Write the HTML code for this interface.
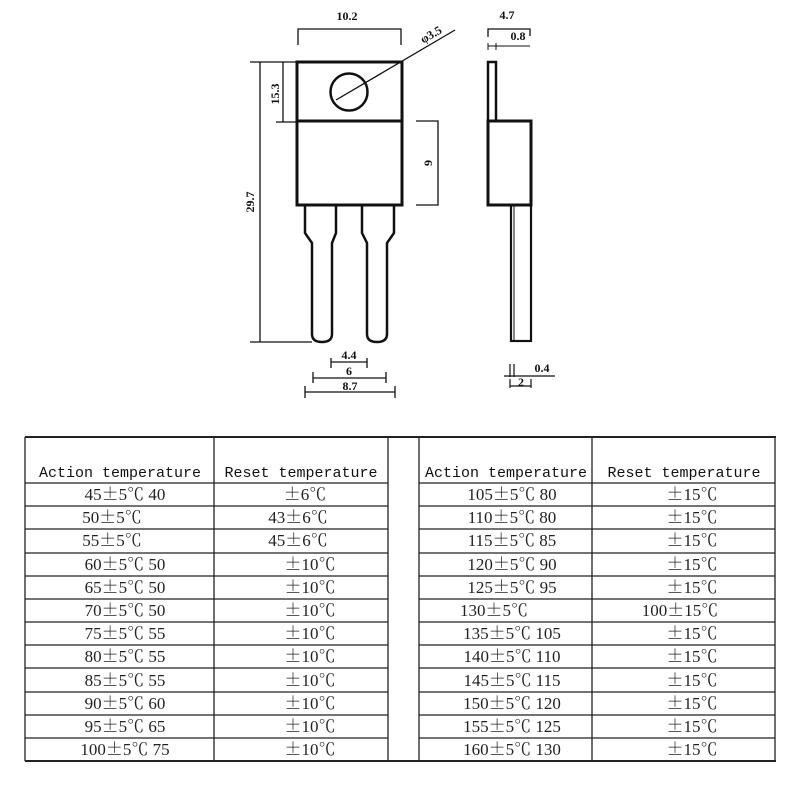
<!DOCTYPE html>
<html><head><meta charset="utf-8"><style>
html,body{margin:0;padding:0;background:#fff;width:800px;height:800px;overflow:hidden}
svg{display:block}
.d{font-family:"Liberation Serif",serif;font-weight:bold;font-size:12px;fill:#111}
.h{font-family:"Liberation Mono",monospace;font-size:15px;fill:#111}
.t{font-family:"Liberation Serif","Noto Serif CJK SC",serif;font-size:17px;fill:#222}
.c{font-family:"Noto Serif CJK SC",serif}
</style></head><body>
<svg width="800" height="800" viewBox="0 0 800 800" xmlns="http://www.w3.org/2000/svg">
<g stroke="#111" fill="none">
 <rect x="297" y="62" width="105" height="143" stroke-width="3"/>
 <line x1="297" y1="121" x2="402" y2="121" stroke-width="3"/>
 <circle cx="349" cy="92" r="18.5" stroke-width="2.5"/>
 <path d="M305 205 V233 L312 243 V334 Q312 342 322 342 Q332 342 332 334 V243 L336 233 V205" stroke-width="2.5"/>
 <path d="M362 205 V233 L367 243 V334 Q367 342 377 342 Q387 342 387 334 V243 L394 233 V205" stroke-width="2.5"/>
 <path d="M298 45 V29 H401 V45" stroke-width="1.3"/>
 <line x1="336" y1="100" x2="455" y2="30" stroke-width="1.3"/>
 <path d="M250 62 H296 M260 62 V342 M250 342 H312" stroke-width="1.3"/>
 <path d="M283 62 V122 M276 122 H297" stroke-width="1.3"/>
 <path d="M416 121 H438 V205 H416" stroke-width="1.3"/>
 <path d="M331 368 V358 M331 362 H367 M367 358 V368" stroke-width="1.3"/>
 <path d="M313 372 V383 M313 378 H386 M386 372 V383" stroke-width="1.3"/>
 <path d="M305 386 V398 M305 392 H395 M395 386 V398" stroke-width="1.3"/>
 <rect x="488" y="62" width="8" height="59" stroke-width="2.5"/>
 <rect x="488" y="121" width="43" height="84" stroke-width="3"/>
 <rect x="511" y="205" width="20" height="136" stroke-width="2.2"/>
 <line x1="514" y1="205" x2="514" y2="341" stroke-width="1"/>
 <path d="M488 37 V29 H530 V36" stroke-width="1.3"/>
 <path d="M488 43 V50 M496 43 V50 M488 46 H530" stroke-width="1"/>
 <path d="M510 364 V377 M514 364 V377 M504 376 H555" stroke-width="1.2"/>
 <path d="M510 379 V388 M531 379 V388 M510 386 H531" stroke-width="1.2"/>
</g>
<text class="d" x="347" y="20" text-anchor="middle">10.2</text>
<text class="d" x="433" y="38" text-anchor="middle" transform="rotate(-30 433 38)">φ3.5</text>
<text class="d" x="254" y="202" text-anchor="middle" transform="rotate(-90 254 202)" font-weight="normal">29.7</text>
<text class="d" x="279" y="94" text-anchor="middle" transform="rotate(-90 279 94)" font-weight="normal">15.3</text>
<text class="d" x="432" y="163" text-anchor="middle" transform="rotate(-90 432 163)">9</text>
<text class="d" x="349" y="359" text-anchor="middle">4.4</text>
<text class="d" x="349" y="375" text-anchor="middle">6</text>
<text class="d" x="350" y="390" text-anchor="middle">8.7</text>
<text class="d" x="507" y="19" text-anchor="middle" font-weight="normal">4.7</text>
<text class="d" x="518" y="40" text-anchor="middle">0.8</text>
<text class="d" x="542" y="372" text-anchor="middle">0.4</text>
<text class="d" x="521" y="386" text-anchor="middle">2</text>
<g stroke="#222" stroke-width="1.3">
 <line x1="25" y1="437" x2="776" y2="437" stroke-width="2"/>
 <line x1="25" y1="761" x2="776" y2="761" stroke-width="2"/>
 <line x1="25" y1="437" x2="25" y2="761"/>
 <line x1="214" y1="437" x2="214" y2="761"/>
 <line x1="388" y1="437" x2="388" y2="761"/>
 <line x1="419" y1="437" x2="419" y2="761"/>
 <line x1="592" y1="437" x2="592" y2="761"/>
 <line x1="775" y1="437" x2="775" y2="761"/>
 <path d="M25 483H388M25 506H388M25 529H388M25 553H388M25 576H388M25 599H388M25 622H388M25 645H388M25 668H388M25 692H388M25 715H388M25 738H388"/>
 <path d="M419 483H775M419 506H775M419 529H775M419 553H775M419 576H775M419 599H775M419 622H775M419 645H775M419 668H775M419 692H775M419 715H775M419 738H775"/>
</g>
<g class="h" text-anchor="middle">
 <text x="120" y="477">Action temperature</text>
 <text x="301" y="477">Reset temperature</text>
 <text x="506" y="477">Action temperature</text>
 <text x="684" y="477">Reset temperature</text>
</g>
<g class="t" text-anchor="middle">
 <text x="125" y="500">45<tspan class="c">±</tspan>5℃ 40</text><text x="305" y="500"><tspan class="c">±</tspan>6℃</text>
 <text x="112" y="523">50<tspan class="c">±</tspan>5℃</text><text x="298" y="523">43<tspan class="c">±</tspan>6℃</text>
 <text x="112" y="546">55<tspan class="c">±</tspan>5℃</text><text x="298" y="546">45<tspan class="c">±</tspan>6℃</text>
 <text x="125" y="570">60<tspan class="c">±</tspan>5℃ 50</text><text x="310" y="570"><tspan class="c">±</tspan>10℃</text>
 <text x="125" y="593">65<tspan class="c">±</tspan>5℃ 50</text><text x="310" y="593"><tspan class="c">±</tspan>10℃</text>
 <text x="125" y="616">70<tspan class="c">±</tspan>5℃ 50</text><text x="310" y="616"><tspan class="c">±</tspan>10℃</text>
 <text x="125" y="639">75<tspan class="c">±</tspan>5℃ 55</text><text x="310" y="639"><tspan class="c">±</tspan>10℃</text>
 <text x="125" y="662">80<tspan class="c">±</tspan>5℃ 55</text><text x="310" y="662"><tspan class="c">±</tspan>10℃</text>
 <text x="125" y="686">85<tspan class="c">±</tspan>5℃ 55</text><text x="310" y="686"><tspan class="c">±</tspan>10℃</text>
 <text x="125" y="709">90<tspan class="c">±</tspan>5℃ 60</text><text x="310" y="709"><tspan class="c">±</tspan>10℃</text>
 <text x="125" y="732">95<tspan class="c">±</tspan>5℃ 65</text><text x="310" y="732"><tspan class="c">±</tspan>10℃</text>
 <text x="125" y="755">100<tspan class="c">±</tspan>5℃ 75</text><text x="310" y="755"><tspan class="c">±</tspan>10℃</text>

 <text x="512" y="500">105<tspan class="c">±</tspan>5℃ 80</text><text x="692" y="500"><tspan class="c">±</tspan>15℃</text>
 <text x="512" y="523">110<tspan class="c">±</tspan>5℃ 80</text><text x="692" y="523"><tspan class="c">±</tspan>15℃</text>
 <text x="512" y="546">115<tspan class="c">±</tspan>5℃ 85</text><text x="692" y="546"><tspan class="c">±</tspan>15℃</text>
 <text x="512" y="570">120<tspan class="c">±</tspan>5℃ 90</text><text x="692" y="570"><tspan class="c">±</tspan>15℃</text>
 <text x="512" y="593">125<tspan class="c">±</tspan>5℃ 95</text><text x="692" y="593"><tspan class="c">±</tspan>15℃</text>
 <text x="494" y="616">130<tspan class="c">±</tspan>5℃</text><text x="680" y="616">100<tspan class="c">±</tspan>15℃</text>
 <text x="512" y="639">135<tspan class="c">±</tspan>5℃ 105</text><text x="692" y="639"><tspan class="c">±</tspan>15℃</text>
 <text x="512" y="662">140<tspan class="c">±</tspan>5℃ 110</text><text x="692" y="662"><tspan class="c">±</tspan>15℃</text>
 <text x="512" y="686">145<tspan class="c">±</tspan>5℃ 115</text><text x="692" y="686"><tspan class="c">±</tspan>15℃</text>
 <text x="512" y="709">150<tspan class="c">±</tspan>5℃ 120</text><text x="692" y="709"><tspan class="c">±</tspan>15℃</text>
 <text x="512" y="732">155<tspan class="c">±</tspan>5℃ 125</text><text x="692" y="732"><tspan class="c">±</tspan>15℃</text>
 <text x="512" y="755">160<tspan class="c">±</tspan>5℃ 130</text><text x="692" y="755"><tspan class="c">±</tspan>15℃</text>
</g>
</svg>
</body></html>
